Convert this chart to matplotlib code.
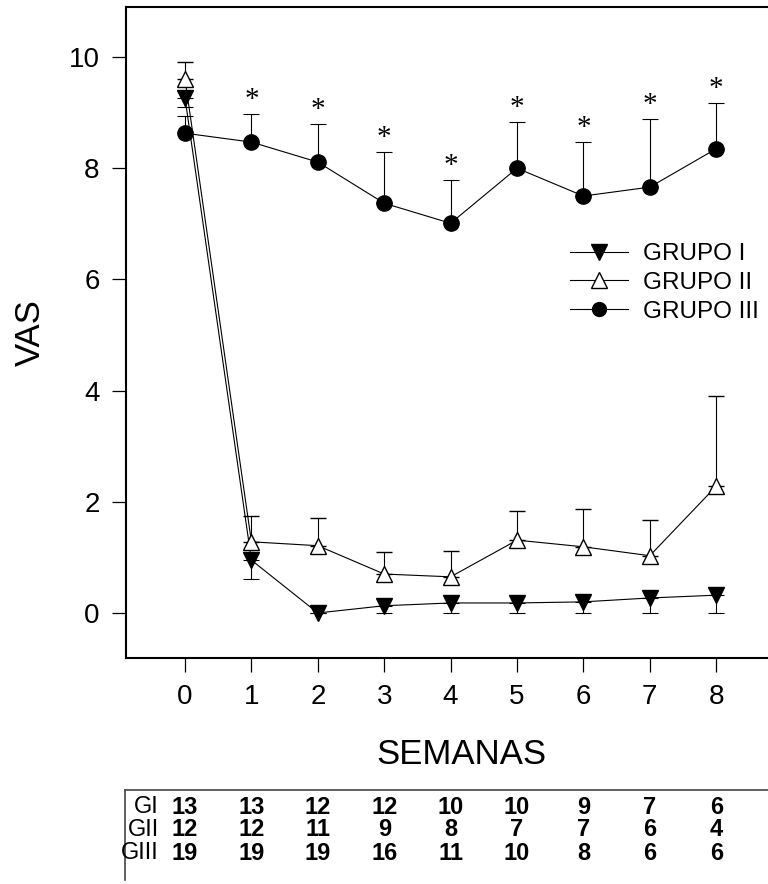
import matplotlib
matplotlib.use("Agg")
import matplotlib.pyplot as plt
from matplotlib.lines import Line2D
from matplotlib.transforms import blended_transform_factory

plt.rcParams['font.family'] = ['Liberation Sans', 'DejaVu Sans']

semanas = [0, 1, 2, 3, 4, 5, 6, 7, 8]

# medias VAS y desviaciones (GI hacia abajo, GII y GIII hacia arriba)
g1_mean = [9.26, 0.95, 0.0, 0.13, 0.18, 0.18, 0.20, 0.27, 0.32]
g1_sd = [0.16, 0.34, 0.0, 0.13, 0.18, 0.18, 0.20, 0.27, 0.32]
g2_mean = [9.60, 1.28, 1.21, 0.70, 0.65, 1.31, 1.19, 1.03, 2.28]
g2_sd = [0.31, 0.46, 0.50, 0.40, 0.47, 0.52, 0.68, 0.64, 1.62]
g3_mean = [8.63, 8.47, 8.11, 7.37, 7.01, 8.00, 7.50, 7.66, 8.35]
g3_sd = [0.31, 0.50, 0.68, 0.92, 0.78, 0.83, 0.97, 1.22, 0.82]
signif = [False, True, True, True, True, True, True, True, True]

# pacientes por grupo y semana
tabla_labels = ['GI', 'GII', 'GIII']
n_g1 = [13, 13, 12, 12, 10, 10, 9, 7, 6]
n_g2 = [12, 12, 11, 9, 8, 7, 7, 6, 4]
n_g3 = [19, 19, 19, 16, 11, 10, 8, 6, 6]

W, H = 768, 884
fig = plt.figure(figsize=(W / 100, H / 100), dpi=100)
ax = fig.add_axes([126 / W, 1 - 658 / H, (W - 126) / W, (658 - 7) / H])

zeros = [0] * len(semanas)
lw = 0.8
ax.errorbar(semanas, g1_mean, yerr=[g1_sd, zeros], color='black', lw=lw,
            marker='v', ms=12, mfc='black', mec='black', capsize=6,
            elinewidth=lw, capthick=lw, zorder=3)
ax.errorbar(semanas, g2_mean, yerr=[zeros, g2_sd], color='black', lw=lw,
            marker='^', ms=12, mfc='white', mec='black', mew=1.0, capsize=6,
            elinewidth=lw, capthick=lw, zorder=3)
ax.errorbar(semanas, g3_mean, yerr=[zeros, g3_sd], color='black', lw=lw,
            marker='o', ms=11, mfc='black', mec='black', capsize=6,
            elinewidth=lw, capthick=lw, zorder=3)

for x, m, s, sig in zip(semanas, g3_mean, g3_sd, signif):
    if sig:
        ax.annotate('*', (x, m + s), xytext=(0, 1), textcoords='offset points',
                    ha='center', va='bottom', fontsize=21,
                    family='Liberation Serif')

ax.set_xlim(-0.889, 8.78)
ax.set_ylim(-0.81, 10.9)
ax.set_xticks(semanas)
ax.set_yticks([0, 2, 4, 6, 8, 10])
ax.tick_params(direction='out', length=10, width=0.9, labelsize=20, pad=9)
ax.spines['right'].set_visible(False)
for sp in ['left', 'bottom', 'top']:
    ax.spines[sp].set_linewidth(1.5)

handles = [
    Line2D([], [], color='black', lw=lw, marker='v', ms=12, mfc='black'),
    Line2D([], [], color='black', lw=lw, marker='^', ms=12, mfc='white'),
    Line2D([], [], color='black', lw=lw, marker='o', ms=10, mfc='black'),
]
ax.legend(handles, ['GRUPO I', 'GRUPO II', 'GRUPO III'], loc='upper left',
          bbox_to_anchor=(570 / W, 1 - 243 / H), bbox_transform=fig.transFigure,
          frameon=False, fontsize=17.5, handlelength=2.4, handletextpad=0.6,
          labelspacing=0.28, borderpad=0, borderaxespad=0)

fig.text(30 / W, 1 - 333 / H, 'VAS', rotation=90, ha='center', va='center',
         fontsize=25)
fig.text(461 / W, 1 - 755 / H, 'SEMANAS', ha='center', va='center',
         fontsize=25)

# tabla con el numero de pacientes
fig.add_artist(Line2D([125 / W, 1.0], [1 - 790 / H, 1 - 790 / H],
                      color='#444444', lw=1.2))
fig.add_artist(Line2D([125 / W, 125 / W], [1 - 790 / H, 1 - 880 / H],
                      color='#444444', lw=1.2))
trans = blended_transform_factory(ax.transData, fig.transFigure)
row_y = [807, 830, 853]
num_font = ['Liberation Sans Narrow', 'Liberation Sans']
for lab, vals, ry in zip(tabla_labels, [n_g1, n_g2, n_g3], row_y):
    fig.text(159 / W, 1 - ry / H, lab, ha='right', va='center', fontsize=17)
    for x, v in zip(semanas, vals):
        ax.text(x, 1 - ry / H, str(v), transform=trans, ha='center',
                va='center', fontsize=17, fontweight='bold', clip_on=False,
                family=num_font)

fig.savefig('out.png', dpi=100)
